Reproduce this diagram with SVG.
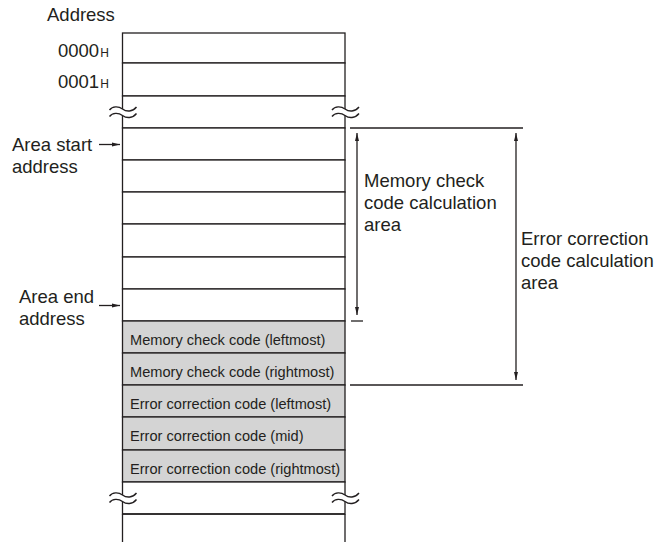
<svg xmlns="http://www.w3.org/2000/svg" width="661" height="542" viewBox="0 0 661 542">
<defs>
<style>
.t{font-family:"Liberation Sans",Arial,sans-serif;font-size:18.5px;fill:#231f20}
.s{font-family:"Liberation Sans",Arial,sans-serif;font-size:14.6px;fill:#231f20}
.h{font-family:"Liberation Sans",Arial,sans-serif;font-size:12px;fill:#231f20}
.ln{stroke:#231f20;stroke-width:1.3;fill:none}
.cell{fill:#ffffff;stroke:#231f20;stroke-width:1.3}
.gray{fill:#d4d4d4;stroke:#231f20;stroke-width:1.3}
.wv{stroke:#231f20;stroke-width:1.4;fill:none}
</style>
<marker id="ah" viewBox="0 0 8 6" refX="8" refY="3" markerWidth="8" markerHeight="6" markerUnits="userSpaceOnUse" orient="auto-start-reverse">
<path d="M0,1 L8,3 L0,5 Z" fill="#231f20"/>
</marker>
<g id="brk">
<path d="M0,3 C3,-1 9,-1 13,2 C17,5 23,5 27,0 L27,6.5 C23,11.5 17,11.5 13,8.5 C9,5.5 3,5.5 0,9.5 Z" fill="#ffffff"/>
<path class="wv" d="M0,3 C3,-1 9,-1 13,2 C17,5 23,5 27,0"/>
<path class="wv" d="M0,9.5 C3,5.5 9,5.5 13,8.5 C17,11.5 23,11.5 27,6.5"/>
</g>
</defs>
<rect width="661" height="542" fill="#ffffff"/>

<g id="memory-map">
<g id="row-0000"><rect class="cell" x="122.5" y="33" width="222.5" height="30"/></g>
<g id="row-0001"><rect class="cell" x="122.5" y="63" width="222.5" height="33"/></g>
<g id="row-gap1"><rect class="cell" x="122.5" y="96" width="222.5" height="32"/></g>
<g id="row-a1"><rect class="cell" x="122.5" y="128" width="222.5" height="32"/></g>
<g id="row-a2"><rect class="cell" x="122.5" y="160" width="222.5" height="32"/></g>
<g id="row-a3"><rect class="cell" x="122.5" y="192" width="222.5" height="32"/></g>
<g id="row-a4"><rect class="cell" x="122.5" y="224" width="222.5" height="33"/></g>
<g id="row-a5"><rect class="cell" x="122.5" y="257" width="222.5" height="32"/></g>
<g id="row-a6"><rect class="cell" x="122.5" y="289" width="222.5" height="32"/></g>
<g id="mcc-left"><rect class="gray" x="122.5" y="321" width="222.5" height="32"/><text class="s" x="130" y="344.5">Memory check code (leftmost)</text></g>
<g id="mcc-right"><rect class="gray" x="122.5" y="353" width="222.5" height="32"/><text class="s" x="130" y="376.5">Memory check code (rightmost)</text></g>
<g id="ecc-left"><rect class="gray" x="122.5" y="385" width="222.5" height="32"/><text class="s" x="130" y="409">Error correction code (leftmost)</text></g>
<g id="ecc-mid"><rect class="gray" x="122.5" y="417" width="222.5" height="33"/><text class="s" x="130" y="441">Error correction code (mid)</text></g>
<g id="ecc-right"><rect class="gray" x="122.5" y="450" width="222.5" height="32"/><text class="s" x="130" y="473.5">Error correction code (rightmost)</text></g>
<g id="row-gap2"><rect class="cell" x="122.5" y="482" width="222.5" height="32"/></g>
<g id="row-last"><path class="ln" d="M122.5,514 H345 M122.5,514 V543 M345,514 V543"/></g>
<use href="#brk" x="109.5" y="107"/>
<use href="#brk" x="332" y="107"/>
<use href="#brk" x="109.5" y="493"/>
<use href="#brk" x="332" y="493"/>
</g>

<g id="labels-left">
<text class="t" x="47" y="21">Address</text>
<text class="t" x="58" y="57">0000<tspan class="h" dx="1">H</tspan></text>
<text class="t" x="58" y="88">0001<tspan class="h" dx="1">H</tspan></text>
<g id="area-start"><text class="t" x="12" y="151">Area start</text><text class="t" x="12" y="173">address</text></g>
<g id="area-end"><text class="t" x="19" y="303">Area end</text><text class="t" x="19" y="325">address</text></g>
</g>

<g id="connectors">
<path class="ln" d="M99,144.5 H120" marker-end="url(#ah)"/>
<path class="ln" d="M99,305.5 H120" marker-end="url(#ah)"/>
<path class="ln" d="M350,128 H523"/>
<path class="ln" d="M350,385 H523"/>
<path class="ln" d="M351,321 H363"/>
<path class="ln" d="M357,133 V315" marker-start="url(#ah)" marker-end="url(#ah)"/>
<path class="ln" d="M516,133 V380" marker-start="url(#ah)" marker-end="url(#ah)"/>
</g>

<g id="mcc-area-label">
<text class="t" x="364" y="187">Memory check</text>
<text class="t" x="364" y="209">code calculation</text>
<text class="t" x="364" y="231">area</text>
</g>
<g id="ecc-area-label">
<text class="t" x="521" y="245">Error correction</text>
<text class="t" x="521" y="267">code calculation</text>
<text class="t" x="521" y="289">area</text>
</g>
</svg>
